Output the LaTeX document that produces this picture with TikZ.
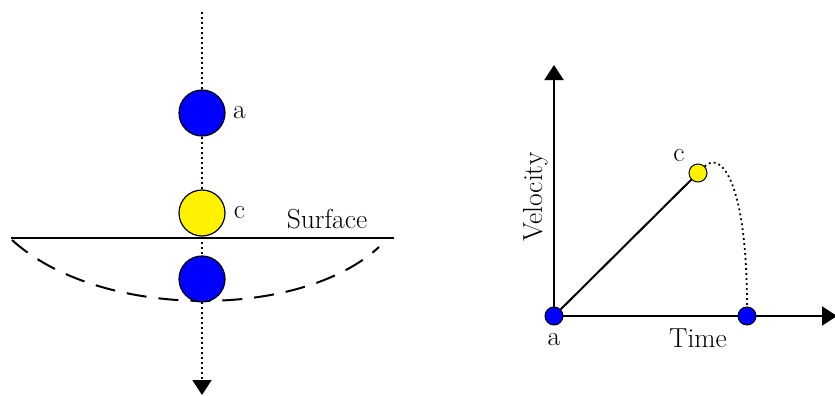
\documentclass[tikz,border=0pt]{standalone}
\usetikzlibrary{arrows.meta}
\begin{document}
\begin{tikzpicture}[x=1pt,y=-1pt,
  bigball/.style={circle, draw=black, line width=1.2pt, minimum size=46pt, inner sep=0pt},
  smallball/.style={circle, draw=black, line width=1pt, minimum size=18pt, inner sep=0pt},
  lbl/.style={font=\fontsize{27.5}{33}\selectfont, inner sep=0pt},
  dotline/.style={line width=1.8pt, dash pattern=on 1.8pt off 3.2pt},
  solidline/.style={line width=2pt},
  tip/.style={-{Triangle[width=19pt,length=15pt]}}
]
\useasboundingbox (0,0) rectangle (835,396);
% ---- left panel ----
\coordinate (top) at (202,12);
\coordinate (bot) at (202,395);
\coordinate (sl) at (11,238);
\coordinate (sr) at (394,238);
\coordinate (dl) at (12,240);
\coordinate (dr) at (379,247);
\draw[dotline, tip] (top) -- (bot);
\draw[solidline] (sl) -- (sr);
\draw[line width=2pt, dash pattern=on 20pt off 12pt] (dl) .. controls (100,320) and (300,320) .. (dr);
\node[bigball, fill=blue] (ba) at (202,113) {};
\node[bigball, fill=yellow] (bc) at (202,213) {};
\node[bigball, fill=blue] (bb) at (202,279) {};
\node[lbl] (la) at (239.5,113) {a};
\node[lbl] (lc) at (239.5,213) {c};
\node[lbl, anchor=base] (ls) at (327,228) {Surface};
% ---- right panel ----
\coordinate (yend) at (554,65);
\coordinate (xend) at (837,316);
\draw[solidline, tip] (554,316) -- (yend);
\draw[solidline, tip] (554,316) -- (xend);
\node[smallball, fill=blue] (O) at (554,316) {};
\node[smallball, fill=yellow] (C) at (698,173) {};
\node[smallball, fill=blue] (T) at (747,316) {};
\draw[solidline] (O) -- (C);
\draw[dotline] (C.north east) .. controls (722,150) and (747,185) .. (T.north);
\node[lbl, anchor=base] (lO) at (554,345) {a};
\node[lbl, anchor=base] (lC) at (679,161) {c};
\node[lbl, anchor=base] (lT) at (698,347) {Time};
\node[lbl, anchor=base, rotate=90] (lV) at (542,197) {Velocity};
\end{tikzpicture}
\end{document}
